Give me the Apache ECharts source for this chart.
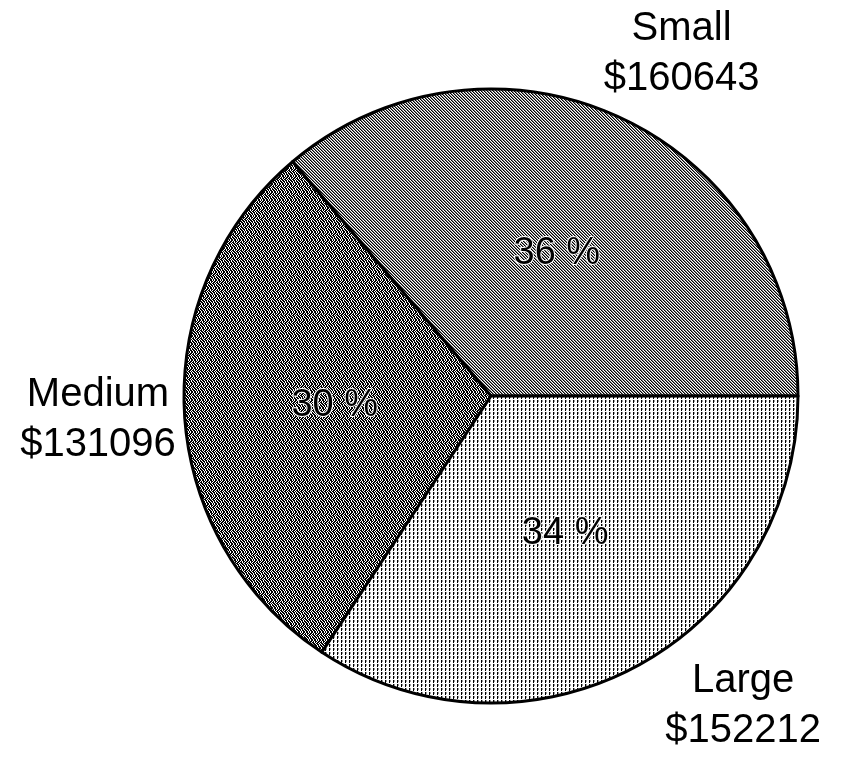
<!DOCTYPE html>
<html>
<head>
<meta charset="utf-8">
<title>Revenue by size</title>
<script src="https://cdn.jsdelivr.net/npm/echarts@6/dist/echarts.min.js"></script>
<style>
  html, body { margin: 0; padding: 0; background: #fff; }
  #chart { width: 858px; height: 761px; }
</style>
</head>
<body>
<div id="chart"></div>
<script>
// Revenue split by customer size
const categories = ['Small', 'Medium', 'Large'];
const revenue = [160643, 131096, 152212];

const W = 858, H = 761;
const CX = 491, CY = 396, R = 307;
const GAP = 6, TOP_MARGIN = 4, BOTTOM_MARGIN = 5;

// Monochrome fill textures, built as small repeating tiles
function tile(size, paint) {
  const c = document.createElement('canvas');
  c.width = size; c.height = size;
  const g = c.getContext('2d');
  g.fillStyle = '#fff';
  g.fillRect(0, 0, size, size);
  paint(g);
  return { image: c, repeat: 'repeat' };
}

const diagonalHatch = tile(3, g => {
  for (let i = 0; i < 3; i++) {
    g.fillStyle = '#000'; g.fillRect(i, i, 1, 1);
    g.fillStyle = '#808080'; g.fillRect((i + 1) % 3, i, 1, 1);
  }
});

const denseStipple = tile(8, g => {
  const rows = [
    '10110101', '01011011', '11010110', '01101101',
    '10110110', '11011010', '01101011', '10110101'
  ];
  g.fillStyle = '#000';
  rows.forEach((r, y) => { for (let x = 0; x < 8; x++) if (r[x] === '1') g.fillRect(x, y, 1, 1); });
});

const dotGrid = tile(4, g => {
  g.fillStyle = '#000'; g.fillRect(1, 0, 1, 3);
  g.fillStyle = '#999'; g.fillRect(2, 0, 1, 2);
});

const fills = [diagonalHatch, denseStipple, dotGrid];

const total = revenue.reduce((a, b) => a + b, 0);
// mid angle of each slice, counter-clockwise from 3 o'clock
const midAngles = [];
{
  let acc = 0;
  revenue.forEach(v => { midAngles.push((acc + v / 2) / total * 2 * Math.PI); acc += v; });
}

const sliceData = categories.map((name, i) => ({
  name, value: revenue[i], itemStyle: { color: fills[i] }
}));
const labelData = categories.map((name, i) => ({ name, value: revenue[i] }));

// Place each name/value label just outside the pie along its slice's mid angle,
// keeping it inside the canvas and clear of the rim.
function outerLabelLayout(params) {
  const a = midAngles[params.dataIndex];
  const cos = Math.cos(a), sin = Math.sin(a);
  const w = params.labelRect.width / 2, h = params.labelRect.height / 2;
  const rr = R + GAP;
  const d = rr + w * Math.abs(cos) + h * Math.abs(sin);
  let x = CX + d * cos, y = CY - d * sin;
  const side = cos >= 0 ? 1 : -1;
  if (y - h < TOP_MARGIN) {
    y = TOP_MARGIN + h;
    const dy = CY - (y + h);
    x = CX + side * (w + Math.sqrt(Math.max(0, rr * rr - dy * dy)));
  } else if (y + h > H - BOTTOM_MARGIN) {
    y = H - BOTTOM_MARGIN - h;
    const dy = (y - h) - CY;
    x = CX + side * (w + Math.sqrt(Math.max(0, rr * rr - dy * dy)));
  }
  return { x, y, align: 'center', verticalAlign: 'middle' };
}

const chart = echarts.init(document.getElementById('chart'), null, { renderer: 'canvas' });
chart.setOption({
  animation: false,
  backgroundColor: '#fff',
  series: [
    {
      type: 'pie',
      center: [CX, CY],
      radius: [0, R],
      startAngle: 0,
      clockwise: false,
      avoidLabelOverlap: false,
      silent: true,
      itemStyle: { borderColor: '#000', borderWidth: 3 },
      label: {
        show: true,
        position: 'inside',
        formatter: p => Math.round(p.percent) + ' %',
        fontFamily: 'Liberation Sans, Arial, sans-serif',
        fontSize: 38,
        color: '#000',
        textBorderColor: '#fff',
        textBorderWidth: 2
      },
      labelLine: { show: false },
      data: sliceData
    },
    {
      type: 'pie',
      center: [CX, CY],
      radius: [0, R],
      startAngle: 0,
      clockwise: false,
      avoidLabelOverlap: false,
      silent: true,
      itemStyle: { color: 'rgba(0,0,0,0)', borderWidth: 0 },
      label: {
        show: true,
        position: 'outside',
        formatter: '{b}\n${c}',
        fontFamily: 'Liberation Sans, Arial, sans-serif',
        fontSize: 40,
        lineHeight: 50,
        color: '#000',
        align: 'center'
      },
      labelLine: { show: false },
      labelLayout: outerLabelLayout,
      data: labelData
    }
  ]
});
</script>
</body>
</html>
